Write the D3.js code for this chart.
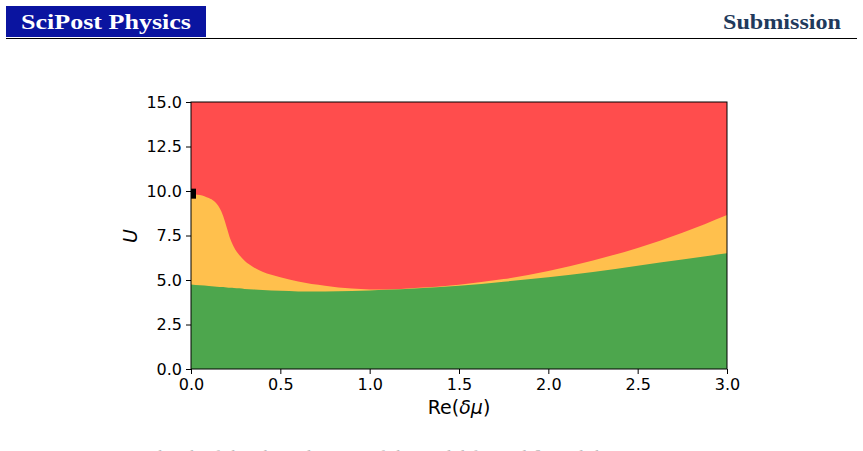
<!DOCTYPE html>
<html>
<head>
<meta charset="utf-8">
<script src="https://cdn.jsdelivr.net/npm/d3@7"></script>
<style>
  body { margin: 0; background: #fff; }
  svg { display: block; }
</style>
</head>
<body>
<svg id="chart" width="863" height="451"></svg>
<script>
  // phase boundaries, on one Re(dmu) grid
  var reVals     = [0, 0.05, 0.1, 0.13, 0.16, 0.18, 0.2, 0.22, 0.24, 0.27, 0.3, 0.35, 0.4, 0.5, 0.6, 0.75, 0.9, 1.0, 1.1, 1.25, 1.5, 1.75, 2.0, 2.25, 2.5, 2.75, 3.0]
  var redLower   = [9.82, 9.78, 9.6, 9.42, 9.05, 8.6, 7.95, 7.3, 6.85, 6.4, 6.08, 5.72, 5.47, 5.16, 4.92, 4.68, 4.52, 4.47, 4.47, 4.55, 4.74, 5.05, 5.5, 6.1, 6.8, 7.65, 8.65]
  var greenUpper = [4.75, 4.7, 4.66, 4.64, 4.61, 4.6, 4.58, 4.56, 4.55, 4.53, 4.5, 4.47, 4.44, 4.39, 4.36, 4.35, 4.38, 4.41, 4.45, 4.52, 4.67, 4.9, 5.15, 5.45, 5.8, 6.15, 6.5]
  var marker = [[0, 9.85]]
  var xTicks = [0, 0.5, 1.0, 1.5, 2.0, 2.5, 3.0]
  var yTicks = [0, 2.5, 5.0, 7.5, 10.0, 12.5, 15.0]

  var svg = d3.select("#chart")

  // header
  svg.append("rect").attr("x", 6).attr("y", 6).attr("width", 200).attr("height", 31).attr("fill", "#0a14a0")
  svg.append("text").attr("x", 21).attr("y", 28.5)
    .attr("font-family", "Liberation Serif, serif").attr("font-weight", "bold").attr("font-size", 22)
    .attr("fill", "#fff").attr("textLength", 170).attr("lengthAdjust", "spacingAndGlyphs").text("SciPost Physics")
  svg.append("text").attr("x", 841).attr("y", 28.5).attr("text-anchor", "end")
    .attr("font-family", "Liberation Serif, serif").attr("font-weight", "bold").attr("font-size", 22)
    .attr("fill", "#1f3a5c").attr("textLength", 118).attr("lengthAdjust", "spacingAndGlyphs").text("Submission")
  svg.append("line").attr("x1", 6).attr("x2", 857).attr("y1", 38.5).attr("y2", 38.5)
    .attr("stroke", "#000").attr("stroke-width", 1)

  var x = d3.scaleLinear().domain([0, 3]).range([191, 727])
  var y = d3.scaleLinear().domain([0, 15]).range([369, 102])

  var defs = svg.append("defs")
  defs.append("clipPath").attr("id", "plotclip").append("rect")
    .attr("x", x(0)).attr("y", y(15)).attr("width", x(3) - x(0)).attr("height", y(0) - y(15))

  var g = svg.append("g").attr("clip-path", "url(#plotclip)")
  var rows = reVals.map(function(r, i) { return {re: r, red: redLower[i], green: greenUpper[i]} })

  g.append("rect").attr("x", x(0)).attr("y", y(15)).attr("width", x(3) - x(0)).attr("height", y(0) - y(15))
    .attr("fill", "#ff4d4d")

  var yellowArea = d3.area().curve(d3.curveMonotoneX)
    .x(function(d) { return x(d.re) }).y0(y(0)).y1(function(d) { return y(d.red) })
  g.append("path").datum(rows).attr("d", yellowArea).attr("fill", "#ffc04d")

  var greenArea = d3.area().curve(d3.curveMonotoneX)
    .x(function(d) { return x(d.re) }).y0(y(0)).y1(function(d) { return y(d.green) })
  g.append("path").datum(rows).attr("d", greenArea).attr("fill", "#4da64d")

  g.selectAll("rect.mk").data(marker).enter().append("rect").attr("class", "mk")
    .attr("x", function(d) { return x(d[0]) - 5 }).attr("y", function(d) { return y(d[1]) - 5 })
    .attr("width", 10).attr("height", 10).attr("fill", "#000")

  // frame
  svg.append("rect").attr("x", x(0)).attr("y", y(15)).attr("width", x(3) - x(0)).attr("height", y(0) - y(15))
    .attr("fill", "none").attr("stroke", "#000").attr("stroke-width", 1)

  var xAxis = svg.append("g").attr("transform", "translate(0," + y(0) + ")")
    .call(d3.axisBottom(x).tickValues(xTicks).tickFormat(d3.format(".1f")).tickSize(5).tickPadding(5))
  var yAxis = svg.append("g").attr("transform", "translate(" + x(0) + ",0)")
    .call(d3.axisLeft(y).tickValues(yTicks).tickFormat(d3.format(".1f")).tickSize(5).tickPadding(4))
  ;[xAxis, yAxis].forEach(function(a) {
    a.select(".domain").remove()
    a.selectAll("text").attr("font-family", "DejaVu Sans").attr("font-size", 16).attr("fill", "#000")
    a.selectAll("line").attr("stroke", "#000")
  })

  var xl = svg.append("text").attr("x", 459).attr("y", 414).attr("text-anchor", "middle")
    .attr("font-family", "DejaVu Sans").attr("font-size", 19)
  xl.append("tspan").text("Re(")
  xl.append("tspan").attr("font-style", "italic").text("δμ")
  xl.append("tspan").text(")")

  svg.append("text").attr("transform", "translate(137,236) rotate(-90)").attr("text-anchor", "middle")
    .attr("font-family", "DejaVu Sans").attr("font-style", "italic").attr("font-size", 19).text("U")

  // caption line peeking in at the bottom edge
  svg.append("text").attr("x", 148).attr("y", 462)
    .attr("font-family", "Liberation Serif, serif").attr("font-size", 17).attr("fill", "#bbb")
    .attr("textLength", 570).text("Sketch of the phase diagram of the model for real δμ and the interaction U")
</script>
</body>
</html>
